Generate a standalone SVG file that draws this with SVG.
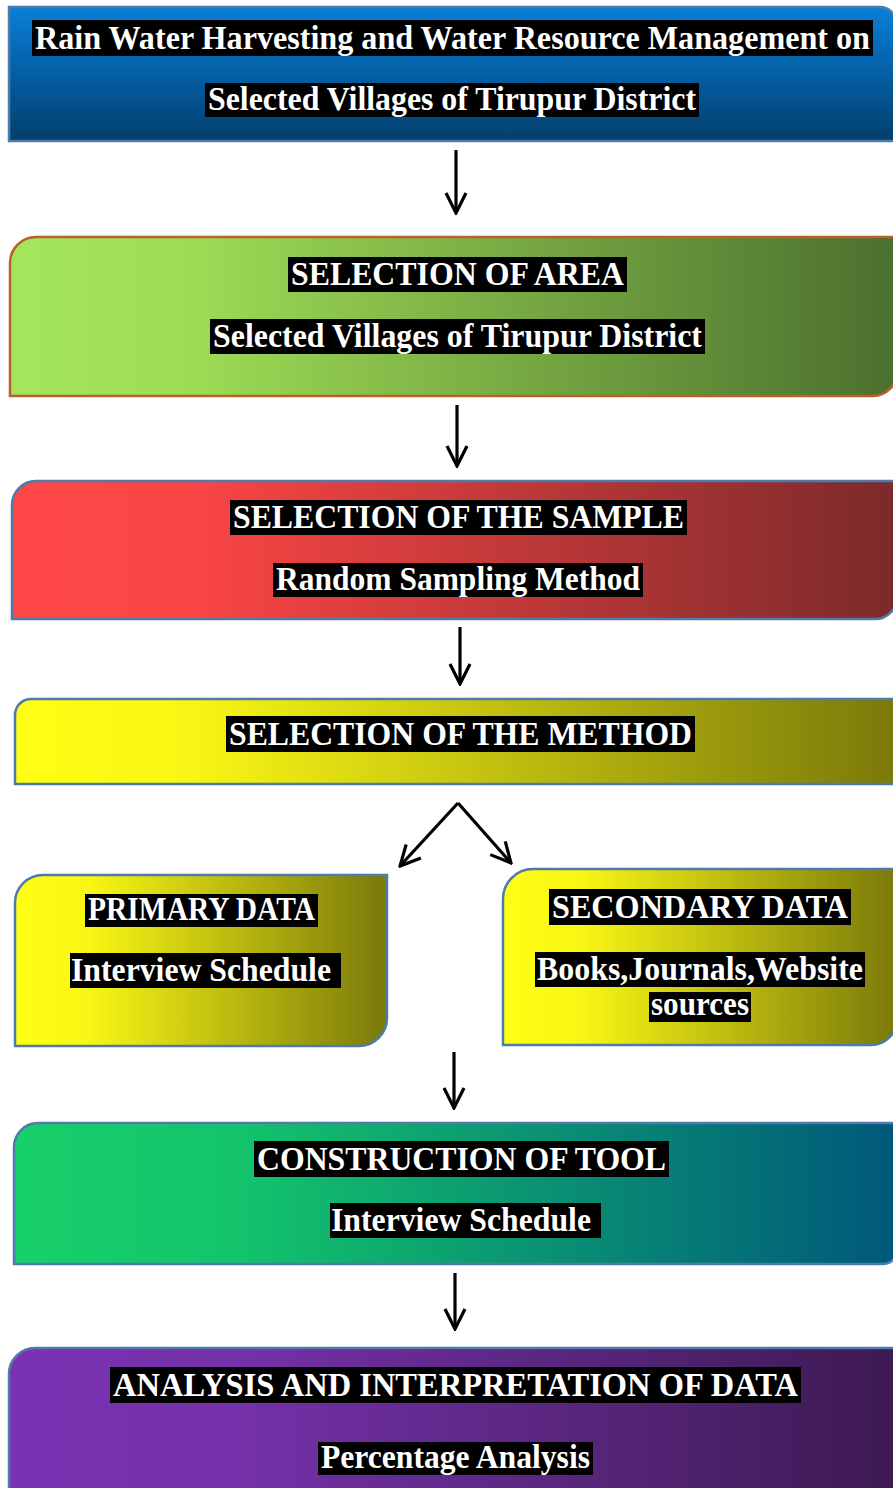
<svg xmlns="http://www.w3.org/2000/svg" width="893" height="1488" viewBox="0 0 893 1488">
<style>
.lbl{font-family:"Liberation Serif","Times New Roman",serif;font-weight:bold;font-size:33px;fill:#fff;text-anchor:middle}
.bg{fill:#000}
.box{stroke:#4f7bab;stroke-width:2.5}
.conn{stroke:#000;stroke-width:3.2;fill:none}
</style>
<defs>
<linearGradient id="gBlue" x1="0" y1="0" x2="0" y2="1">
<stop offset="0" stop-color="#0a7fd8"/><stop offset="0.35" stop-color="#0568b4"/><stop offset="1" stop-color="#023f6c"/>
</linearGradient>
<linearGradient id="gGreen" x1="0" y1="0" x2="1" y2="0">
<stop offset="0" stop-color="#a3e65c"/><stop offset="0.2" stop-color="#9edc55"/><stop offset="1" stop-color="#4b6f2e"/>
</linearGradient>
<linearGradient id="gRed" x1="0" y1="0" x2="1" y2="0">
<stop offset="0" stop-color="#ff4747"/><stop offset="0.2" stop-color="#fb4545"/><stop offset="1" stop-color="#7b2a2a"/>
</linearGradient>
<linearGradient id="gYellow" x1="0" y1="0" x2="1" y2="0">
<stop offset="0" stop-color="#ffff14"/><stop offset="0.2" stop-color="#f8f614"/><stop offset="1" stop-color="#7a790a"/>
</linearGradient>
<linearGradient id="gTeal" x1="0" y1="0" x2="1" y2="0">
<stop offset="0" stop-color="#18d06a"/><stop offset="0.25" stop-color="#13c46c"/><stop offset="1" stop-color="#00587a"/>
</linearGradient>
<linearGradient id="gPurple" x1="0" y1="0" x2="1" y2="0">
<stop offset="0" stop-color="#7b31b3"/><stop offset="0.25" stop-color="#7531aa"/><stop offset="1" stop-color="#3d1a52"/>
</linearGradient>
<marker id="ah" viewBox="-2 -12 24 24" refX="20" refY="0" markerUnits="userSpaceOnUse" markerWidth="24" markerHeight="24" orient="auto">
<path d="M0,-10 L20,0 L0,10" fill="none" stroke="#000" stroke-width="3.2"/>
</marker>
</defs>

<g id="title">
<path class="box" d="M9,7 H880 A16,16 0 0 1 896,23 V141 H9 Z" fill="url(#gBlue)"/>
<rect class="bg" x="32" y="20" width="841" height="36"/>
<text class="lbl" x="452.5" y="49" textLength="835" lengthAdjust="spacingAndGlyphs">Rain Water Harvesting and Water Resource Management on</text>
<rect class="bg" x="205" y="83" width="494" height="34"/>
<text class="lbl" x="452" y="110" textLength="488" lengthAdjust="spacingAndGlyphs">Selected Villages of Tirupur District</text>
</g>

<g id="area">
<path d="M36,237 H897 V372 A24,24 0 0 1 873,396 H10 V263 A26,26 0 0 1 36,237 Z" fill="url(#gGreen)" stroke="#b8622a" stroke-width="2.5"/>
<rect class="bg" x="288" y="257" width="339" height="35"/>
<text class="lbl" x="457.5" y="285" textLength="333" lengthAdjust="spacingAndGlyphs">SELECTION OF AREA</text>
<rect class="bg" x="210" y="319" width="495" height="35"/>
<text class="lbl" x="457.5" y="347" textLength="489" lengthAdjust="spacingAndGlyphs">Selected Villages of Tirupur District</text>
</g>

<g id="sample">
<path class="box" d="M36,481 H897 V597 A22,22 0 0 1 875,619 H12 V505 A24,24 0 0 1 36,481 Z" fill="url(#gRed)"/>
<rect class="bg" x="230" y="500" width="457" height="35"/>
<text class="lbl" x="458.5" y="528" textLength="451" lengthAdjust="spacingAndGlyphs">SELECTION OF THE SAMPLE</text>
<rect class="bg" x="273" y="563" width="370" height="34"/>
<text class="lbl" x="458" y="590" textLength="364" lengthAdjust="spacingAndGlyphs">Random Sampling Method</text>
</g>

<g id="method">
<path class="box" d="M31,699 H897 V784 H15 V715 A16,16 0 0 1 31,699 Z" fill="url(#gYellow)"/>
<rect class="bg" x="226" y="716" width="469" height="36"/>
<text class="lbl" x="460.5" y="745" textLength="463" lengthAdjust="spacingAndGlyphs">SELECTION OF THE METHOD</text>
</g>

<g id="primary">
<path class="box" d="M43,875 H387 V1018 A28,28 0 0 1 359,1046 H15 V903 A28,28 0 0 1 43,875 Z" fill="url(#gYellow)"/>
<rect class="bg" x="85" y="894" width="233" height="33"/>
<text class="lbl" x="201.5" y="920" textLength="227" lengthAdjust="spacingAndGlyphs">PRIMARY DATA</text>
<rect class="bg" x="70" y="953" width="271" height="35"/>
<text class="lbl" x="201" y="981" textLength="260" lengthAdjust="spacingAndGlyphs">Interview Schedule</text>
</g>

<g id="secondary">
<path class="box" d="M533,869 H897 V1019 A26,26 0 0 1 871,1045 H503 V899 A30,30 0 0 1 533,869 Z" fill="url(#gYellow)"/>
<rect class="bg" x="549" y="889" width="302" height="36"/>
<text class="lbl" x="700" y="918" textLength="296" lengthAdjust="spacingAndGlyphs">SECONDARY DATA</text>
<rect class="bg" x="535" y="952" width="330" height="35"/>
<text class="lbl" x="700" y="980" textLength="326" lengthAdjust="spacingAndGlyphs">Books,Journals,Website</text>
<rect class="bg" x="649" y="992" width="102" height="30"/>
<text class="lbl" x="700" y="1015" textLength="98" lengthAdjust="spacingAndGlyphs">sources</text>
</g>

<g id="tool">
<path class="box" d="M38,1123 H897 V1250 A14,14 0 0 1 883,1264 H14 V1147 A24,24 0 0 1 38,1123 Z" fill="url(#gTeal)"/>
<rect class="bg" x="254" y="1141" width="415" height="36"/>
<text class="lbl" x="461.5" y="1170" textLength="409" lengthAdjust="spacingAndGlyphs">CONSTRUCTION OF TOOL</text>
<rect class="bg" x="330" y="1203" width="271" height="35"/>
<text class="lbl" x="461" y="1231" textLength="260" lengthAdjust="spacingAndGlyphs">Interview Schedule</text>
</g>

<g id="analysis">
<path class="box" d="M35,1348 H897 V1500 H9 V1374 A26,26 0 0 1 35,1348 Z" fill="url(#gPurple)"/>
<rect class="bg" x="110" y="1367" width="691" height="36"/>
<text class="lbl" x="455.5" y="1396" textLength="685" lengthAdjust="spacingAndGlyphs">ANALYSIS AND INTERPRETATION OF DATA</text>
<rect class="bg" x="318" y="1442" width="275" height="33"/>
<text class="lbl" x="455.5" y="1468" textLength="269" lengthAdjust="spacingAndGlyphs">Percentage Analysis</text>
</g>

<g id="connectors">
<line class="conn" x1="456" y1="150" x2="456" y2="213" marker-end="url(#ah)"/>
<line class="conn" x1="457" y1="405" x2="457" y2="466" marker-end="url(#ah)"/>
<line class="conn" x1="460" y1="627" x2="460" y2="684" marker-end="url(#ah)"/>
<line class="conn" x1="458" y1="803" x2="400" y2="866" marker-end="url(#ah)"/>
<line class="conn" x1="458" y1="803" x2="511" y2="863" marker-end="url(#ah)"/>
<line class="conn" x1="454" y1="1052" x2="454" y2="1108" marker-end="url(#ah)"/>
<line class="conn" x1="455" y1="1273" x2="455" y2="1329" marker-end="url(#ah)"/>
</g>
</svg>
